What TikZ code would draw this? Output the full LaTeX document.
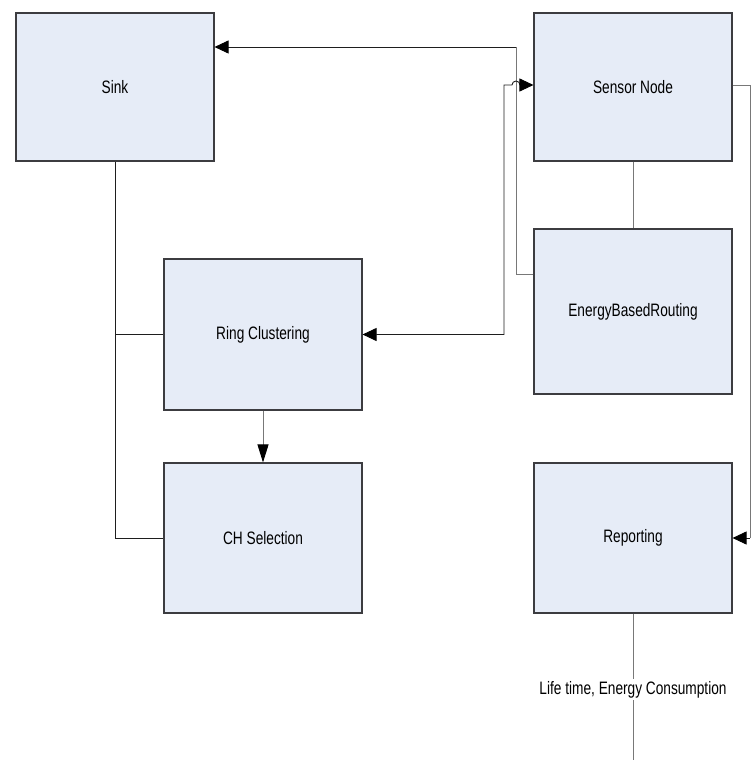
\documentclass[tikz,border=0pt]{standalone}
\usepackage{fontspec}
\setmainfont[FakeStretch=0.76]{Liberation Sans}
\usetikzlibrary{arrows.meta}
\definecolor{boxfill}{RGB}{230,236,247}
\definecolor{boxline}{RGB}{60,60,64}
\definecolor{darkln}{RGB}{30,30,30}
\definecolor{grayln}{RGB}{120,120,120}
\tikzset{
  blockbox/.style={draw=boxline, fill=boxfill, line width=1.1pt, inner sep=0pt,
    minimum width=198pt, font=\fontsize{18}{20}\selectfont},
  darkconn/.style={draw=darkln, line width=0.9pt},
  grayconn/.style={draw=grayln, line width=0.9pt},
  tip/.style={-{Triangle[length=14pt,width=13pt,color=black]}},
  tiplong/.style={-{Triangle[length=18pt,width=11pt,color=black]}},
  tipboth/.style={{Triangle[length=14pt,width=13pt,color=black]}-{Triangle[length=14pt,width=13pt,color=black]}},
}
\begin{document}
\begin{tikzpicture}[x=1pt,y=-1pt]
\useasboundingbox (0,0) rectangle (754,760);
% boxes
\node[blockbox, minimum height=148pt] (sink) at (115,87) {Sink};
\node[blockbox, minimum height=148pt] (sensor) at (633,87) {Sensor Node};
\node[blockbox, minimum height=165pt] (ebr) at (633,311.5) {EnergyBasedRouting};
\node[blockbox, minimum height=151pt] (ring) at (263,334.5) {Ring Clustering};
\node[blockbox, minimum height=150pt] (ch) at (263,538) {CH Selection};
\node[blockbox, minimum height=150pt] (report) at (633,538) {Reporting};
% corridor coordinates
\coordinate (rcx) at (504,85);
\coordinate (hopl) at (512,85);
\coordinate (ex) at (516,47);
\coordinate (ex2) at (516,274);
\coordinate (rx) at (750,85);
\coordinate (endc) at (633,760);
% sink bus
\draw[darkconn] (sink.south) |- (ch.west);
\draw[darkconn] (sink.south |- ring.west) -- (ring.west);
% ring -> ch
\draw[grayconn, tiplong] (ring.south) -- (ch.north);
% EBR -> sink
\draw[grayconn] (ebr.west |- ex2) -- (ex2) -- (ex);
\draw[darkconn, tip] (ex) -- (ex -| sink.east);
% ring <-> sensor with hop
\draw[darkconn, tipboth] (ring.east) -- (ring.east -| rcx) -- (rcx) -- (hopl)
  arc[start angle=180, end angle=0, radius=4pt] -- (rcx -| sensor.west);
% sensor -- ebr
\draw[grayconn] (sensor.south) -- (ebr.north);
% sensor -> reporting
\draw[grayconn] (rx -| sensor.east) -- (rx) -- (rx |- report.east);
\draw[darkconn, tip] (rx |- report.east) -- (report.east);
% reporting output
\draw[grayconn] (report.south) -- node[pos=0.52, fill=white, inner sep=2pt,
  font=\fontsize{18}{20}\selectfont] (lbl) {Life time, Energy Consumption} (endc);
\end{tikzpicture}
\end{document}
